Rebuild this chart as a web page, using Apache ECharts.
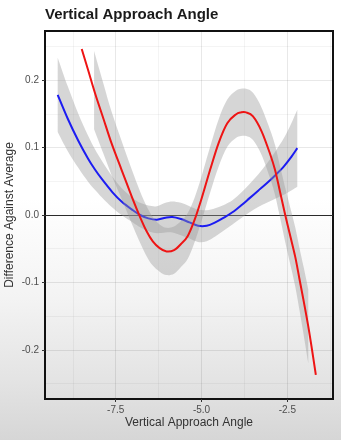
<!DOCTYPE html>
<html>
<head>
<meta charset="utf-8">
<script src="https://cdn.jsdelivr.net/npm/echarts@6/dist/echarts.min.js"></script>
<style>
  html, body { margin: 0; padding: 0; }
  body {
    width: 341px; height: 440px;
    background: linear-gradient(to bottom, #ffffff 0%, #ffffff 45%, #f3f3f3 68%, #e4e4e4 86%, #d6d6d6 100%);
  }
  #chart { width: 341px; height: 440px; }
</style>
</head>
<body>
<div id="chart"></div>
<script>
// Smoothed difference curves with their confidence ribbons.
const blueX    = [-9.19, -8.9, -8.59, -8.3, -8.1, -7.9, -7.6, -7.33, -7.0, -6.79, -6.55, -6.3, -6.05, -5.85, -5.6, -5.35, -5.1, -4.85, -4.6, -4.35, -4.1, -3.85, -3.6, -3.35, -3.1, -2.85, -2.6, -2.4, -2.21];
const blueY    = [0.178, 0.143, 0.110, 0.083, 0.067, 0.053, 0.034, 0.020, 0.007, 0.000, -0.005, -0.007, -0.004, -0.003, -0.006, -0.011, -0.016, -0.016, -0.011, -0.004, 0.004, 0.014, 0.025, 0.036, 0.047, 0.059, 0.072, 0.085, 0.099];
const blueLow  = [0.123, 0.095, 0.070, 0.049, 0.037, 0.026, 0.011, 0.000, -0.011, -0.018, -0.024, -0.027, -0.026, -0.026, -0.030, -0.035, -0.040, -0.039, -0.032, -0.023, -0.014, -0.005, 0.004, 0.012, 0.018, 0.024, 0.030, 0.036, 0.042];
const blueHigh = [0.233, 0.191, 0.150, 0.117, 0.097, 0.080, 0.057, 0.040, 0.025, 0.018, 0.014, 0.013, 0.018, 0.020, 0.018, 0.013, 0.008, 0.007, 0.010, 0.015, 0.022, 0.033, 0.046, 0.060, 0.076, 0.094, 0.114, 0.134, 0.156];

const redX = [-8.49, -8.3, -8.1, -7.86, -7.62, -7.33, -7.03, -6.79, -6.6, -6.42, -6.22, -6.02, -5.8, -5.6, -5.4, -5.2, -5.0, -4.75, -4.5, -4.25, -4.0, -3.85, -3.7, -3.5, -3.25, -3.0, -2.86, -2.72, -2.58, -2.42, -2.27, -2.15, -2.03, -1.89, -1.78, -1.67];
const redY = [0.246, 0.214, 0.180, 0.143, 0.106, 0.067, 0.027, -0.003, -0.024, -0.039, -0.049, -0.054, -0.052, -0.043, -0.031, -0.007, 0.024, 0.067, 0.107, 0.136, 0.149, 0.152, 0.152, 0.146, 0.124, 0.090, 0.067, 0.036, 0.004, -0.030, -0.062, -0.094, -0.126, -0.165, -0.200, -0.237];

const redBandX = [-8.13, -7.86, -7.62, -7.33, -7.03, -6.79, -6.6, -6.42, -6.22, -6.02, -5.8, -5.6, -5.4, -5.2, -5.0, -4.75, -4.5, -4.25, -4.0, -3.85, -3.7, -3.5, -3.25, -3.0, -2.86, -2.72, -2.58, -2.42, -2.27, -2.15, -2.03, -1.89];
const redLow   = [0.127, 0.091, 0.059, 0.024, -0.013, -0.041, -0.061, -0.075, -0.084, -0.089, -0.087, -0.077, -0.065, -0.040, -0.009, 0.033, 0.072, 0.101, 0.114, 0.117, 0.117, 0.111, 0.089, 0.054, 0.030, -0.002, -0.036, -0.072, -0.106, -0.140, -0.176, -0.220];
const redHigh  = [0.243, 0.195, 0.153, 0.110, 0.067, 0.035, 0.013, -0.003, -0.014, -0.019, -0.017, -0.009, 0.003, 0.026, 0.057, 0.101, 0.142, 0.171, 0.184, 0.187, 0.187, 0.181, 0.159, 0.126, 0.104, 0.074, 0.044, 0.012, -0.018, -0.048, -0.076, -0.110];

// Axis ticks and panel grid lines
const xTicks = [-7.5, -5.0, -2.5];
const yTicks = [-0.2, -0.1, 0.0, 0.1, 0.2];
const xMinor = [-8.75, -6.25, -3.75, -1.25];
const yMinor = [-0.25, -0.15, -0.05, 0.05, 0.15, 0.25];

const FONT = '"Liberation Sans", Arial, Helvetica, sans-serif';
const RIBBON = 'rgba(153,153,153,0.4)';
const MAJOR = 'rgba(0,0,0,0.09)';
const MINOR = 'rgba(0,0,0,0.045)';

// Catmull-Rom spline through pixel points, written as cubic Bezier segments.
function splineSegments(pts) {
  let d = '';
  for (let i = 0; i < pts.length - 1; i++) {
    const p0 = pts[i - 1] || pts[i];
    const p1 = pts[i];
    const p2 = pts[i + 1];
    const p3 = pts[i + 2] || pts[i + 1];
    const c1x = p1[0] + (p2[0] - p0[0]) / 6, c1y = p1[1] + (p2[1] - p0[1]) / 6;
    const c2x = p2[0] - (p3[0] - p1[0]) / 6, c2y = p2[1] - (p3[1] - p1[1]) / 6;
    d += ' C' + c1x.toFixed(2) + ',' + c1y.toFixed(2) + ' ' + c2x.toFixed(2) + ',' + c2y.toFixed(2) + ' ' + p2[0].toFixed(2) + ',' + p2[1].toFixed(2);
  }
  return d;
}
function moveTo(p) { return 'M' + p[0].toFixed(2) + ',' + p[1].toFixed(2); }
function lineTo(p) { return ' L' + p[0].toFixed(2) + ',' + p[1].toFixed(2); }

function ribbon(xs, lo, hi, z) {
  return {
    type: 'custom', silent: true, z: z,
    data: [[xs[0], lo[0]]],
    renderItem: function (params, api) {
      const top = xs.map((x, i) => api.coord([x, hi[i]]));
      const bottom = xs.map((x, i) => api.coord([x, lo[i]])).reverse();
      const d = moveTo(top[0]) + splineSegments(top) + lineTo(bottom[0]) + splineSegments(bottom) + ' Z';
      return { type: 'path', shape: { pathData: d }, style: { fill: RIBBON, stroke: null } };
    }
  };
}

function curve(xs, ys, color, z) {
  return {
    type: 'custom', silent: true, z: z,
    data: [[xs[0], ys[0]]],
    renderItem: function (params, api) {
      const pts = xs.map((x, i) => api.coord([x, ys[i]]));
      return {
        type: 'path', shape: { pathData: moveTo(pts[0]) + splineSegments(pts) },
        style: { fill: null, stroke: color, lineWidth: 2, lineJoin: 'round', lineCap: 'butt' }
      };
    }
  };
}

const gridLines = []
  .concat(xTicks.map(v => ({ xAxis: v, lineStyle: { color: MAJOR, width: 1, type: 'solid' } })))
  .concat(xMinor.map(v => ({ xAxis: v, lineStyle: { color: MINOR, width: 1, type: 'solid' } })))
  .concat(yTicks.map(v => ({ yAxis: v, lineStyle: { color: MAJOR, width: 1, type: 'solid' } })))
  .concat(yMinor.map(v => ({ yAxis: v, lineStyle: { color: MINOR, width: 1, type: 'solid' } })));

const chart = echarts.init(document.getElementById('chart'), null, { renderer: 'canvas' });

chart.setOption({
  animation: false,
  backgroundColor: 'transparent',
  title: {
    text: 'Vertical Approach Angle',
    left: 45, top: 7, padding: 0,
    textStyle: { fontFamily: FONT, fontSize: 15, fontWeight: 'bold', color: '#1a1a1a' }
  },
  grid: {
    left: 45, right: 8, top: 31, bottom: 41,
    outerBoundsMode: 'none', containLabel: false,
    show: true, borderColor: '#111', borderWidth: 2, backgroundColor: 'transparent'
  },
  xAxis: {
    type: 'value', min: -9.56, max: -1.17,
    name: 'Vertical Approach Angle', nameLocation: 'middle', nameGap: 18, nameMoveOverlap: false,
    nameTextStyle: { fontFamily: FONT, fontSize: 12, color: '#333' },
    axisLine: { show: false, onZero: false },
    splitLine: { show: false },
    axisTick: { show: true, length: 3, customValues: xTicks, lineStyle: { color: '#333', width: 1 } },
    axisLabel: { customValues: xTicks, formatter: v => v.toFixed(1), color: '#4d4d4d', fontSize: 10, margin: 6, fontFamily: FONT }
  },
  yAxis: {
    type: 'value', min: -0.2726, max: 0.2726,
    name: 'Difference Against Average', nameLocation: 'middle', nameGap: 29, nameMoveOverlap: false,
    nameTextStyle: { fontFamily: FONT, fontSize: 12, color: '#333' },
    axisLine: { show: false, onZero: false },
    splitLine: { show: false },
    axisTick: { show: true, length: 3, customValues: yTicks, lineStyle: { color: '#333', width: 1 } },
    axisLabel: { customValues: yTicks, formatter: v => v.toFixed(1), color: '#4d4d4d', fontSize: 10, margin: 6, fontFamily: FONT }
  },
  series: [
    {
      type: 'line', data: [], silent: true, z: 1,
      markLine: {
        silent: true, z: 1, animation: false, symbol: ['none', 'none'],
        label: { show: false }, lineStyle: { type: 'solid' },
        emphasis: { disabled: true },
        data: gridLines
      }
    },
    {
      type: 'line', data: [], silent: true, z: 2,
      markLine: {
        silent: true, z: 2, animation: false, symbol: ['none', 'none'],
        label: { show: false }, emphasis: { disabled: true },
        data: [{ yAxis: 0, lineStyle: { color: '#2a2a2a', width: 1.2, type: 'solid' } }]
      }
    },
    ribbon(blueX, blueLow, blueHigh, 3),
    curve(blueX, blueY, '#1c1cf2', 4),
    ribbon(redBandX, redLow, redHigh, 5),
    curve(redX, redY, '#ee1414', 6)
  ]
});
</script>
</body>
</html>
